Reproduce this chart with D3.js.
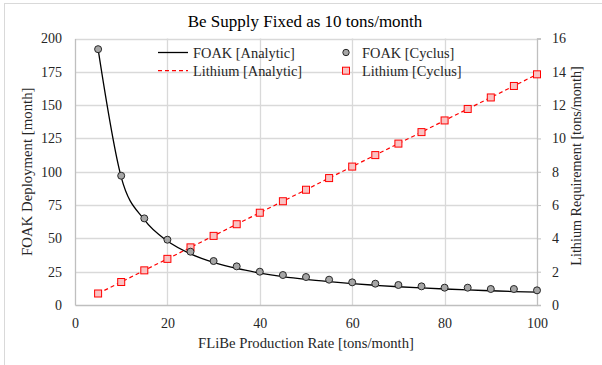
<!DOCTYPE html>
<html>
<head>
<meta charset="utf-8">
<script src="https://cdn.jsdelivr.net/npm/d3@7"></script>
<style>
  html, body { margin: 0; padding: 0; background: #fff; }
  svg { display: block; }
</style>
</head>
<body>
<svg id="chart" width="602" height="365"></svg>
<script>
// FLiBe production rate [tons/month]
const rates = [5, 10, 15, 20, 25, 30, 35, 40, 45, 50, 55, 60, 65, 70, 75, 80, 85, 90, 95, 100];
// FOAK deployment time [month], analytic curve
const foakAnalytic = [192, 96, 64, 48, 38.4, 32, 27.4, 24, 21.3, 19.2, 17.5, 16, 14.8, 13.7, 12.8, 12, 11.3, 10.7, 10.1, 9.6];
// FOAK deployment time [month], Cyclus simulation
const foakCyclus = [192, 97, 65, 49, 40, 33, 29, 25, 22.5, 21, 19, 17, 16, 15, 14, 13, 13, 12, 12, 11];
// Lithium requirement [tons/month], analytic line
const lithiumAnalytic = [0.69, 1.38, 2.08, 2.77, 3.46, 4.15, 4.85, 5.54, 6.23, 6.92, 7.62, 8.31, 9.0, 9.69, 10.38, 11.08, 11.77, 12.46, 13.15, 13.85];
// Lithium requirement [tons/month], Cyclus simulation
const lithiumCyclus = [0.69, 1.38, 2.08, 2.77, 3.46, 4.15, 4.85, 5.54, 6.23, 6.92, 7.62, 8.31, 9.0, 9.69, 10.38, 11.08, 11.77, 12.46, 13.15, 13.85];

const xTicks = [0, 20, 40, 60, 80, 100];
const yLeftTicks = [0, 25, 50, 75, 100, 125, 150, 175, 200];
const yRightTicks = [0, 2, 4, 6, 8, 10, 12, 14, 16];

const FONT = "Liberation Serif";
const svg = d3.select("#chart").attr("font-family", FONT);
const plot = { left: 75, right: 537, top: 38.5, bottom: 305 };

const x = d3.scaleLinear().domain([0, 100]).range([plot.left, plot.right]);
const yL = d3.scaleLinear().domain([0, 200]).range([plot.bottom, plot.top]);
const yR = d3.scaleLinear().domain([0, 16]).range([plot.bottom, plot.top]);

const grid = "#d9d9d9";
const axisCol = "#bfbfbf";
const textCol = "#262626";

// outer frame
svg.append("rect")
  .attr("x", 4.5).attr("y", 3.5).attr("width", 610).attr("height", 370)
  .attr("fill", "none").attr("stroke", "#d9d9d9").attr("stroke-width", 1);

// gridlines
svg.append("g").selectAll("line").data(yLeftTicks.slice(1)).join("line")
  .attr("x1", plot.left).attr("x2", plot.right)
  .attr("y1", d => Math.round(yL(d)) + 0.5).attr("y2", d => Math.round(yL(d)) + 0.5)
  .attr("stroke", grid).attr("stroke-width", 1.3);
svg.append("g").selectAll("line").data(xTicks.slice(1, -1)).join("line")
  .attr("y1", plot.top).attr("y2", plot.bottom)
  .attr("x1", d => Math.round(x(d)) + 0.5).attr("x2", d => Math.round(x(d)) + 0.5)
  .attr("stroke", grid).attr("stroke-width", 1.3);

// axes
const tickFont = 14;
const gx = svg.append("g").attr("transform", `translate(0,${plot.bottom})`)
  .call(d3.axisBottom(x).tickValues(xTicks).tickSize(0).tickPadding(13).tickFormat(d3.format("d")));
const gl = svg.append("g").attr("transform", `translate(${plot.left},0)`)
  .call(d3.axisLeft(yL).tickValues(yLeftTicks).tickSize(0).tickPadding(13).tickFormat(d3.format("d")));
const gr = svg.append("g").attr("transform", `translate(${plot.right},0)`)
  .call(d3.axisRight(yR).tickValues(yRightTicks).tickSize(4).tickPadding(11).tickFormat(d3.format("d")));

[gx, gl, gr].forEach(g => {
  g.attr("font-family", FONT).attr("font-size", tickFont);
  g.select(".domain").attr("stroke", axisCol).attr("stroke-width", 1.3);
  g.selectAll(".tick line").attr("stroke", axisCol);
  g.selectAll(".tick text").attr("fill", textCol);
});

// series
const idx = d3.range(rates.length);

svg.append("path")
  .datum(idx)
  .attr("fill", "none").attr("stroke", "#ff0000").attr("stroke-width", 1.2)
  .attr("stroke-dasharray", "4,3")
  .attr("d", d3.line().x(i => x(rates[i])).y(i => yR(lithiumAnalytic[i])));

svg.append("path")
  .datum(idx)
  .attr("fill", "none").attr("stroke", "#000").attr("stroke-width", 1.3)
  .attr("d", d3.line().curve(d3.curveMonotoneX).x(i => x(rates[i])).y(i => yL(foakAnalytic[i])));

svg.append("g").selectAll("rect").data(idx).join("rect")
  .attr("x", i => x(rates[i]) - 3.5).attr("y", i => yR(lithiumCyclus[i]) - 3.5)
  .attr("width", 7).attr("height", 7)
  .attr("fill", "#f9c2c2").attr("stroke", "#ff0000").attr("stroke-width", 1);

svg.append("g").selectAll("circle").data(idx).join("circle")
  .attr("cx", i => x(rates[i])).attr("cy", i => yL(foakCyclus[i]))
  .attr("r", 3.5)
  .attr("fill", "#a6a6a6").attr("stroke", "#262626").attr("stroke-width", 1);

// title
svg.append("text")
  .attr("x", 305).attr("y", 27).attr("text-anchor", "middle")
  .attr("fill", "#000").attr("font-size", 17)
  .text("Be Supply Fixed as 10 tons/month");

// axis titles
svg.append("text")
  .attr("x", (plot.left + plot.right) / 2).attr("y", 348).attr("text-anchor", "middle")
  .attr("fill", textCol).attr("font-size", 14.7)
  .text("FLiBe Production Rate [tons/month]");
svg.append("text")
  .attr("transform", `translate(32,${(plot.top + plot.bottom) / 2}) rotate(-90)`)
  .attr("text-anchor", "middle")
  .attr("fill", textCol).attr("font-size", 14.8)
  .text("FOAK Deployment [month]");
svg.append("text")
  .attr("transform", `translate(581,166) rotate(-90)`)
  .attr("text-anchor", "middle")
  .attr("fill", textCol).attr("font-size", 14.2)
  .text("Lithium Requirement [tons/month]");

// legend
const legend = svg.append("g").attr("font-size", 14.4).attr("fill", textCol);
const leg = [
  { label: "FOAK [Analytic]", kind: "solid", lx: 158, ly: 52.5 },
  { label: "Lithium [Analytic]", kind: "dash", lx: 158, ly: 70.7 },
  { label: "FOAK [Cyclus]", kind: "circle", lx: 346, ly: 52.5 },
  { label: "Lithium [Cyclus]", kind: "square", lx: 346, ly: 70.7 }
];
leg.forEach(d => {
  if (d.kind === "solid" || d.kind === "dash") {
    legend.append("line")
      .attr("x1", d.lx).attr("x2", d.lx + 30).attr("y1", d.ly).attr("y2", d.ly)
      .attr("stroke", d.kind === "solid" ? "#000" : "#ff0000")
      .attr("stroke-width", 1.3)
      .attr("stroke-dasharray", d.kind === "dash" ? "4,3" : null);
    legend.append("text").attr("x", d.lx + 35).attr("y", d.ly + 5).text(d.label);
  } else {
    if (d.kind === "circle") {
      legend.append("circle").attr("cx", d.lx).attr("cy", d.ly).attr("r", 3.2)
        .attr("fill", "#a6a6a6").attr("stroke", "#262626");
    } else {
      legend.append("rect").attr("x", d.lx - 3.5).attr("y", d.ly - 3.5)
        .attr("width", 7).attr("height", 7)
        .attr("fill", "#f9c2c2").attr("stroke", "#ff0000");
    }
    legend.append("text").attr("x", d.lx + 16).attr("y", d.ly + 5).text(d.label);
  }
});
</script>
</body>
</html>
